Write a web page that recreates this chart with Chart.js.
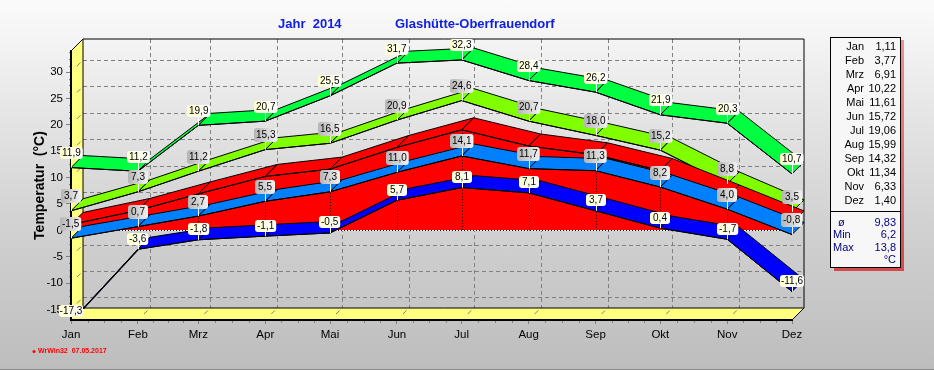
<!DOCTYPE html>
<html>
<head>
<meta charset="utf-8">
<title>Jahr 2014 Glashütte-Oberfrauendorf</title>
<script src="https://cdn.jsdelivr.net/npm/chart.js@4"></script>
<style>
  html, body { margin: 0; padding: 0; }
  body { width: 934px; height: 370px; overflow: hidden; position: relative;
    background: linear-gradient(#fbfbfb 0, #f4f4f4 40px, #e6e6e6 110px, #d2d2d2 220px, #bdbdbd 369px); }
  canvas { display: block; }
  #edge { position: absolute; left: 0; right: 0; bottom: 0; height: 1px; background: #8c8c8c; }
</style>
</head>
<body>
<canvas id="chart" width="934" height="370"></canvas>
<div id="edge"></div>
<script>
const months = ['Jan', 'Feb', 'Mrz', 'Apr', 'Mai', 'Jun', 'Jul', 'Aug', 'Sep', 'Okt', 'Nov', 'Dez'];
// axis runs on day of year, the months are not evenly spaced
const monthDays = [0, 31, 59, 90, 120, 151, 181, 212, 243, 273, 304, 334];
const yTicks = [-15, -10, -5, 0, 5, 10, 15, 20, 25, 30];

const absMax = [11.9, 11.2, 19.9, 20.7, 25.5, 31.7, 32.3, 28.4, 26.2, 21.9, 20.3, 10.7];
const meanMax = [3.7, 7.3, 11.2, 15.3, 16.5, 20.9, 24.6, 20.7, 18.0, 15.2, 8.8, 3.5];
const meanTemp = [1.11, 3.77, 6.91, 10.22, 11.61, 15.72, 19.06, 15.99, 14.32, 11.34, 6.33, 1.40];
const meanMin = [-1.5, 0.7, 2.7, 5.5, 7.3, 11.0, 14.1, 11.7, 11.3, 8.2, 4.0, -0.8];
const absMin = [-17.3, -3.6, -1.8, -1.1, -0.5, 5.7, 8.1, 7.1, 3.7, 0.4, -1.7, -11.6];

const summaryLabels = ['ø', 'Min', 'Max'];
const summaryValues = ['9,83', '6,2', '13,8'];

const DEPTH = 12;
const FONT = '"Liberation Sans", Arial, sans-serif';

const comma = (v, digits) => v.toFixed(digits).replace('.', ',');
const points = (values) => values.map((v, i) => ({ x: monthDays[i], y: v }));

function series(label, values, color, order, labelStyle, extra) {
  return Object.assign({
    label,
    data: points(values),
    ribbonColor: color,
    labelStyle,
    order,
    borderColor: '#000',
    borderWidth: 1,
    pointRadius: 0,
    tension: 0,
    clip: { left: 20, right: 20, top: 20, bottom: -11 }
  }, extra);
}

// back wall, side wall and floor
const walls = {
  id: 'walls',
  beforeDraw(chart) {
    const { ctx, chartArea: a } = chart;
    const xs = chart.scales.x, ys = chart.scales.y;
    const backL = a.left + DEPTH, backR = a.right + DEPTH;
    const backT = a.top - DEPTH, backB = a.bottom - DEPTH;

    ctx.save();
    ctx.fillStyle = '#ffff80';
    ctx.beginPath();
    ctx.moveTo(a.left, a.top); ctx.lineTo(backL, backT); ctx.lineTo(backL, backB);
    ctx.lineTo(backR, backB); ctx.lineTo(a.right, a.bottom); ctx.lineTo(a.left, a.bottom);
    ctx.closePath();
    ctx.fill();

    ctx.strokeStyle = '#808080';
    ctx.lineWidth = 1;
    ctx.setLineDash([4, 3]);
    yTicks.forEach(v => {
      const y = Math.round(ys.getPixelForValue(v) - DEPTH) + 0.5;
      ctx.beginPath(); ctx.moveTo(backL, y); ctx.lineTo(backR, y); ctx.stroke();
    });
    monthDays.slice(1, -1).forEach(d => {
      const x = Math.round(xs.getPixelForValue(d) + DEPTH) + 0.5;
      ctx.beginPath(); ctx.moveTo(x, backT); ctx.lineTo(x, backB); ctx.stroke();
    });
    ctx.setLineDash([]);

    // small grid marks running over the yellow walls
    const mark = (x, y) => {
      ctx.beginPath();
      ctx.moveTo(x + DEPTH * 0.5, y - DEPTH * 0.5);
      ctx.lineTo(x + DEPTH * 0.8, y - DEPTH * 0.8);
      ctx.stroke();
    };
    yTicks.forEach(v => mark(a.left, ys.getPixelForValue(v)));
    monthDays.slice(0, -1).forEach(d => mark(xs.getPixelForValue(d), a.bottom));

    // minor ticks
    ctx.beginPath();
    yTicks.forEach(v => {
      for (let k = 1; k < 4; k++) {
        const y = Math.round(ys.getPixelForValue(v + k * 1.25)) + 0.5;
        if (y > a.top) { ctx.moveTo(a.left - 2, y); ctx.lineTo(a.left, y); }
      }
    });
    monthDays.slice(0, -1).forEach((d, i) => {
      for (let k = 1; k < 4; k++) {
        const x = Math.round(xs.getPixelForValue(d + k * (monthDays[i + 1] - d) / 4)) + 0.5;
        ctx.moveTo(x, a.bottom); ctx.lineTo(x, a.bottom + 3);
      }
    });
    ctx.stroke();

    ctx.strokeStyle = '#000';
    ctx.lineWidth = 1;
    ctx.beginPath();
    ctx.moveTo(a.left, a.top); ctx.lineTo(backL, backT);
    ctx.lineTo(backR, backT); ctx.lineTo(backR, backB); ctx.lineTo(a.right, a.bottom);
    ctx.moveTo(backL, backT); ctx.lineTo(backL, backB); ctx.lineTo(backR, backB);
    ctx.stroke();
    ctx.restore();
  }
};

// the extruded top face of every series, painted right before its own line
const ribbons = {
  id: 'ribbons',
  beforeDatasetDraw(chart, args) {
    const { ctx, chartArea: a, scales } = chart;
    const ds = chart.data.datasets[args.index];
    const px = ds.data.map(p => [scales.x.getPixelForValue(p.x), scales.y.getPixelForValue(p.y)]);

    ctx.save();
    ctx.beginPath();
    ctx.rect(0, 0, chart.width, a.bottom - 11);
    ctx.clip();

    if (ds.fill) {
      // drop lines and the dotted base line of the filled series
      const zero = Math.round(scales.y.getPixelForValue(0)) + 0.5;
      ctx.lineWidth = 1;
      ctx.strokeStyle = '#fff';
      ctx.beginPath(); ctx.moveTo(a.left, zero); ctx.lineTo(a.right, zero); ctx.stroke();
      ctx.strokeStyle = '#000';
      ctx.setLineDash([1, 2]);
      ctx.beginPath(); ctx.moveTo(a.left, zero); ctx.lineTo(a.right, zero);
      px.forEach(p => { const x = Math.round(p[0]) + 0.5; ctx.moveTo(x, p[1]); ctx.lineTo(x, zero); });
      ctx.stroke();
      ctx.setLineDash([]);
    }

    ctx.fillStyle = ds.ribbonColor;
    ctx.strokeStyle = '#000';
    ctx.lineWidth = 1;
    for (let i = 0; i < px.length - 1; i++) {
      const p = px[i], q = px[i + 1];
      ctx.beginPath();
      ctx.moveTo(p[0], p[1]);
      ctx.lineTo(q[0], q[1]);
      ctx.lineTo(q[0] + DEPTH, q[1] - DEPTH);
      ctx.lineTo(p[0] + DEPTH, p[1] - DEPTH);
      ctx.closePath();
      ctx.fill();
      ctx.stroke();
    }
    ctx.restore();
  }
};

const labelStyles = {
  pale: { from: '#ffffd2', to: '#ffffff', height: 12, lift: 14.5 },
  paleLow: { from: '#ffffd2', to: '#ffffff', height: 12, lift: 10.5 },
  gray: { from: '#b4b4b4', to: '#f2f2f2', height: 14, lift: 14.5 }
};

// value flags, drawn over everything incl. the axis numbers
const flags = {
  id: 'flags',
  afterDatasetsDraw(chart) {
    const { ctx, scales } = chart;
    ctx.save();
    ctx.font = '10px ' + FONT;
    ctx.textAlign = 'center';
    ctx.textBaseline = 'middle';
    chart.data.datasets.forEach(ds => {
      if (!ds.labelStyle) return;
      const st = labelStyles[ds.labelStyle];
      ds.data.forEach(p => {
        const x = scales.x.getPixelForValue(p.x), y = scales.y.getPixelForValue(p.y);
        const cy = y - st.lift;
        const text = comma(p.y, 1);
        const w = Math.min(24, Math.max(20, ctx.measureText(text).width + 4));
        const left = Math.round(x - w / 2), top = Math.round(cy - st.height / 2);

        ctx.strokeStyle = '#fff';
        ctx.lineWidth = 1;
        ctx.beginPath();
        ctx.moveTo(Math.round(x) + 0.5, top);
        ctx.lineTo(Math.round(x) + 0.5, Math.min(y, chart.chartArea.bottom - 11));
        ctx.stroke();

        const g = ctx.createLinearGradient(left, 0, left + w, 0);
        g.addColorStop(0, st.from);
        g.addColorStop(1, st.to);
        ctx.fillStyle = g;
        ctx.beginPath();
        ctx.roundRect(left, top, w, st.height, 3);
        ctx.fill();
        ctx.fillStyle = '#000';
        ctx.fillText(text, left + w / 2, top + st.height / 2 + 0.5);
      });
    });
    ctx.restore();
  }
};

const texts = {
  id: 'texts',
  afterDraw(chart) {
    const { ctx } = chart;
    ctx.save();

    ctx.textBaseline = 'middle';
    ctx.fillStyle = '#1020e0';
    ctx.font = 'bold 13px ' + FONT;
    ctx.fillText('Jahr  2014', 278, 24);
    ctx.fillText('Glashütte-Oberfrauendorf', 395, 24);

    // side panel
    const shade = ctx.createLinearGradient(0, 40, 0, 271);
    shade.addColorStop(0, 'rgba(240, 110, 110, 0.75)');
    shade.addColorStop(1, 'rgba(215, 50, 50, 0.85)');
    ctx.fillStyle = shade;
    ctx.fillRect(901, 40, 3, 231);
    ctx.fillRect(834, 268, 67, 3);
    ctx.fillStyle = '#f7f7f7';
    ctx.fillRect(831, 37, 70, 231);
    ctx.strokeStyle = '#000';
    ctx.lineWidth = 1;
    ctx.strokeRect(830.5, 37.5, 70, 230);
    ctx.beginPath(); ctx.moveTo(831, 211.5); ctx.lineTo(900, 211.5); ctx.stroke();

    ctx.font = '11px ' + FONT;
    ctx.textAlign = 'right';
    ctx.fillStyle = '#000';
    months.forEach((m, i) => {
      const y = 46.5 + i * 14;
      ctx.fillText(m, 864, y);
      ctx.fillText(comma(meanTemp[i], 2), 896, y);
    });

    ctx.fillStyle = '#000080';
    summaryLabels.forEach((l, i) => {
      const y = 223 + i * 12.3;
      ctx.textAlign = 'left';
      ctx.fillText(l, i === 0 ? 838 : 833, y);
      ctx.textAlign = 'right';
      ctx.fillText(summaryValues[i], 896, y);
    });
    ctx.fillText('°C', 896, 259.5);

    // footer
    ctx.textAlign = 'left';
    ctx.fillStyle = '#ff0000';
    ctx.beginPath(); ctx.arc(34, 351.5, 1.5, 0, Math.PI * 2); ctx.fill();
    ctx.font = 'bold 7px ' + FONT;
    ctx.fillText('WrWin32  07.05.2017', 38, 351.5);

    ctx.restore();
  }
};

new Chart(document.getElementById('chart'), {
  type: 'line',
  data: {
    datasets: [
      series('Max', absMax, '#00ff40', 5, 'pale'),
      series('Mittel Max', meanMax, '#80ff00', 4, 'gray'),
      series('Mittel', meanTemp, '#ff0000', 3, null, { fill: { value: 0 }, backgroundColor: '#ff0000' }),
      series('Mittel Min', meanMin, '#0080ff', 2, 'gray'),
      series('Min', absMin, '#0000ff', 1, 'paleLow')
    ]
  },
  options: {
    responsive: false,
    animation: false,
    layout: { padding: { top: 51, right: 142, bottom: 0, left: 0 } },
    plugins: { legend: { display: false }, tooltip: { enabled: false } },
    scales: {
      x: {
        type: 'linear',
        min: monthDays[0],
        max: monthDays[monthDays.length - 1],
        afterBuildTicks: (s) => { s.ticks = monthDays.map(d => ({ value: d })); },
        afterFit: (s) => { s.height = 50; },
        grid: { drawOnChartArea: false, tickLength: 4, color: '#808080' },
        border: { color: '#000', width: 2 },
        ticks: {
          autoSkip: false,
          maxRotation: 0,
          padding: 4,
          color: '#000',
          font: { family: FONT, size: 11.5 },
          callback: (v) => months[monthDays.indexOf(v)]
        }
      },
      y: {
        min: -17,
        max: 34,
        afterBuildTicks: (s) => { s.ticks = yTicks.map(v => ({ value: v })); },
        afterFit: (s) => { s.width = 71; },
        grid: { drawOnChartArea: false, tickLength: 5, color: '#808080' },
        border: { color: '#000', width: 2 },
        ticks: {
          padding: 3,
          color: '#000',
          font: { family: FONT, size: 11.5 },
          callback: (v) => String(v)
        },
        title: {
          display: true,
          text: 'Temperatur  (°C)',
          color: '#000',
          font: { family: FONT, size: 14, weight: 'bold' },
          padding: { top: 32, bottom: 0 }
        }
      }
    }
  },
  plugins: [walls, ribbons, flags, texts]
});
</script>
</body>
</html>
